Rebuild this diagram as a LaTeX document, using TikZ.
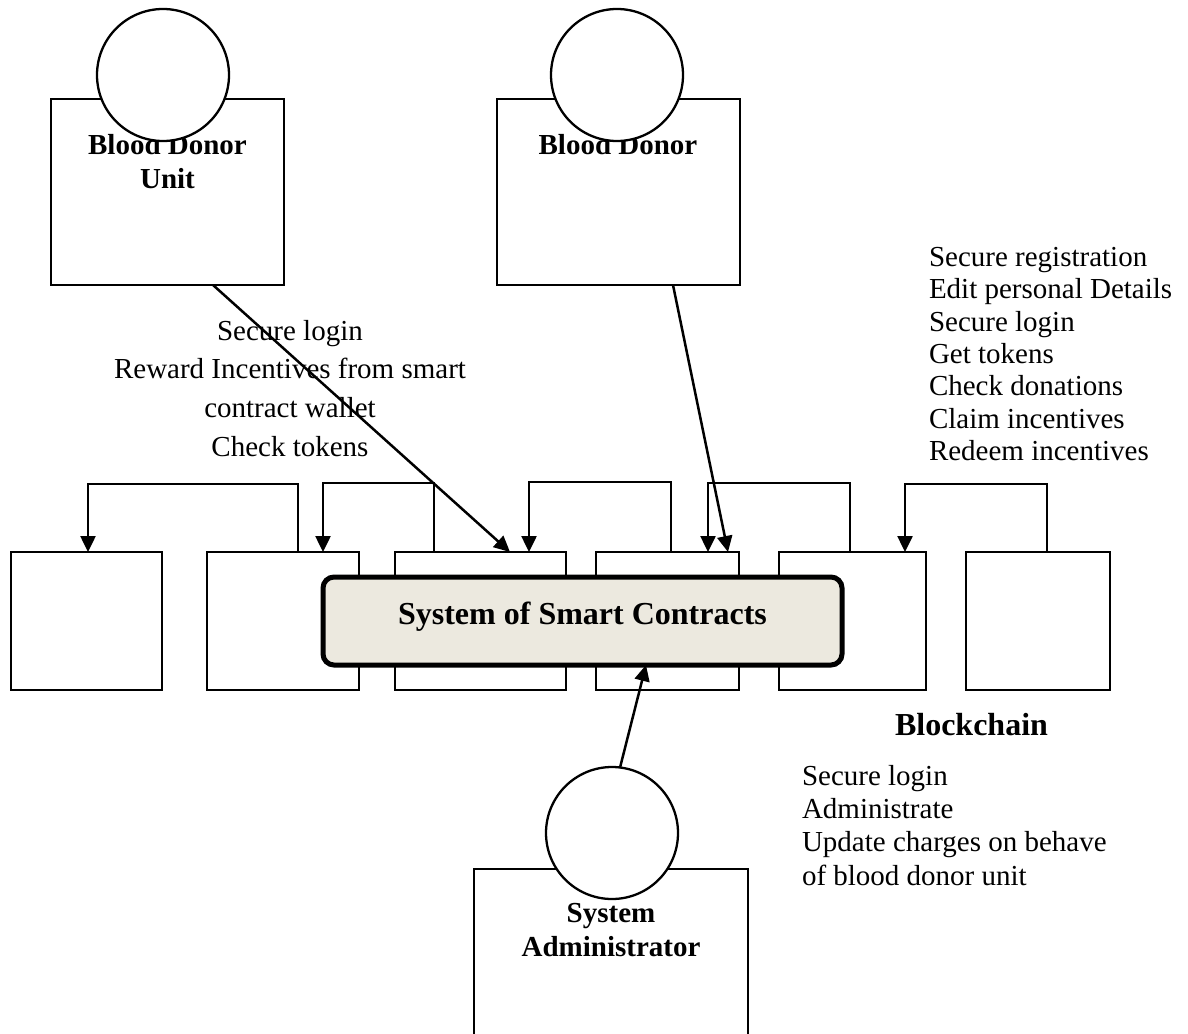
\documentclass[tikz,border=0pt]{standalone}
\usepackage{fontspec}
\setmainfont{Liberation Serif}
\usetikzlibrary{arrows.meta}
\definecolor{contractfill}{RGB}{236,233,223}
\begin{document}
\begin{tikzpicture}[x=1pt,y=-1pt,
  every node/.style={inner sep=0pt, outer sep=0pt},
  block/.style={draw, line width=2.5pt, fill=white, anchor=north west, minimum height=138pt},
  actorbox/.style={draw, line width=2.5pt, fill=white, anchor=north west},
  head/.style={draw, circle, line width=2.3pt, fill=white, minimum size=132pt},
  actorname/.style={font=\bfseries\fontsize{29}{34}\selectfont, align=center, anchor=north},
  link/.style={line width=2.5pt, -{Triangle[length=16pt,width=15pt]}},
]
\clip (0,0) rectangle (1188,1033);
\fill[white] (0,0) rectangle (1188,1033);

% blockchain blocks
\node[block, minimum width=151pt] (b1) at (11,552) {};
\node[block, minimum width=152pt] (b2) at (207,552) {};
\node[block, minimum width=171pt] (b3) at (395,552) {};
\node[block, minimum width=143pt] (b4) at (596,552) {};
\node[block, minimum width=147pt] (b5) at (779,552) {};
\node[block, minimum width=144pt] (b6) at (966,552) {};

% chain links between neighbouring blocks
\draw[link] ([xshift=91pt]b2.north west) -- ++(0,-68) -| ([xshift=77pt]b1.north west);
\draw[link] ([xshift=39pt]b3.north west) -- ++(0,-69) -| ([xshift=116pt]b2.north west);
\draw[link] ([xshift=75pt]b4.north west) -- ++(0,-70) -| ([xshift=134pt]b3.north west);
\draw[link] ([xshift=71pt]b5.north west) -- ++(0,-69) -| ([xshift=112pt]b4.north west);
\draw[link] ([xshift=81pt]b6.north west) -- ++(0,-68) -| ([xshift=126pt]b5.north west);

% smart contract layer
\node[draw, line width=5pt, rounded corners=11pt, fill=contractfill,
      minimum width=519pt, minimum height=88pt,
      font=\bfseries\fontsize{32}{38}\selectfont, text height=22pt, text depth=16pt]
      (sc) at (582.5,621) {System of Smart Contracts};

% actors
\node[actorbox, minimum width=233pt, minimum height=186pt] (bduBox) at (51,99) {};
\node[actorname] (bduName) at (167.5,134) {Blood Donor\\Unit};
\node[head] (bduHead) at (163,75) {};

\node[actorbox, minimum width=243pt, minimum height=186pt] (bdBox) at (497,99) {};
\node[actorname] (bdName) at (618,134) {Blood Donor};
\node[head] (bdHead) at (617,75) {};

\node[actorbox, minimum width=274pt, minimum height=200pt] (admBox) at (474,869) {};
\node[actorname] (admName) at (611,903.5) {System\\Administrator};
\node[head] (admHead) at (612,833) {};

% notes
\node[font=\fontsize{29}{38.7}\selectfont, align=center, anchor=north] (unitNote) at (290,320)
  {Secure login\\Reward Incentives from smart\\contract wallet\\Check tokens};
\node[font=\fontsize{29}{32.4}\selectfont, align=left, anchor=north west] (donorNote) at (929,247)
  {Secure registration\\Edit personal Details\\Secure login\\Get tokens\\Check donations\\Claim incentives\\Redeem incentives};
\node[font=\bfseries\fontsize{32}{38}\selectfont, anchor=base west] (chainLabel) at (895,735) {Blockchain};
\node[font=\fontsize{29}{33.3}\selectfont, align=left, anchor=north west] (adminNote) at (802,765)
  {Secure login\\Administrate\\Update charges on behave\\of blood donor unit};

% interactions
\draw[link] ([xshift=162pt]bduBox.south west) -- ([xshift=115pt]b3.north west);
\draw[link] ([xshift=176pt]bdBox.south west) -- ([xshift=132pt]b4.north west);
\draw[link] (admHead.83) -- ([xshift=63.5pt]sc.south);
\end{tikzpicture}
\end{document}
